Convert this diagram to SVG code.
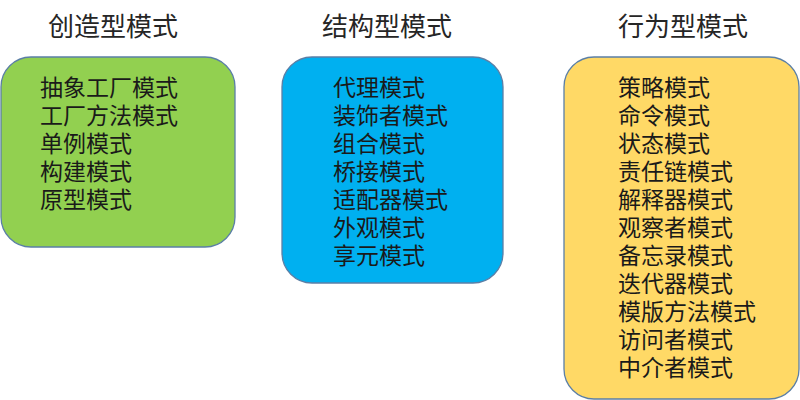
<svg xmlns="http://www.w3.org/2000/svg" width="800" height="400" viewBox="0 0 800 400">
<style>
.box{stroke:#5b7fa6;stroke-width:1.3}
.title{font-family:"Liberation Sans","Noto Sans CJK SC",sans-serif;font-size:26px;fill:#262626}
.item{font-family:"Liberation Sans","Noto Sans CJK SC",sans-serif;font-size:23px;fill:#1a1a1a}
</style>
<rect width="800" height="400" fill="#ffffff"/>
<g id="creational">
<text class="title" x="48" y="36">创造型模式</text>
<rect class="box" x="1" y="57" width="234" height="190" rx="30" fill="#92D050"/>
<text class="item" x="40" y="96"><tspan x="40" y="96">抽象工厂模式</tspan><tspan x="40" y="124">工厂方法模式</tspan><tspan x="40" y="152">单例模式</tspan><tspan x="40" y="180">构建模式</tspan><tspan x="40" y="208">原型模式</tspan></text>
</g>
<g id="structural">
<text class="title" x="322" y="36">结构型模式</text>
<rect class="box" x="282" y="57" width="221" height="226" rx="30" fill="#00B0F0"/>
<text class="item" x="333" y="96"><tspan x="333" y="96">代理模式</tspan><tspan x="333" y="124">装饰者模式</tspan><tspan x="333" y="152">组合模式</tspan><tspan x="333" y="180">桥接模式</tspan><tspan x="333" y="208">适配器模式</tspan><tspan x="333" y="236">外观模式</tspan><tspan x="333" y="264">享元模式</tspan></text>
</g>
<g id="behavioral">
<text class="title" x="618" y="36">行为型模式</text>
<rect class="box" x="564" y="57" width="235" height="342" rx="30" fill="#FFD966"/>
<text class="item" x="618" y="96"><tspan x="618" y="96">策略模式</tspan><tspan x="618" y="124">命令模式</tspan><tspan x="618" y="152">状态模式</tspan><tspan x="618" y="180">责任链模式</tspan><tspan x="618" y="208">解释器模式</tspan><tspan x="618" y="236">观察者模式</tspan><tspan x="618" y="264">备忘录模式</tspan><tspan x="618" y="292">迭代器模式</tspan><tspan x="618" y="320">模版方法模式</tspan><tspan x="618" y="348">访问者模式</tspan><tspan x="618" y="376">中介者模式</tspan></text>
</g>
<g id="connectors"></g>
</svg>
